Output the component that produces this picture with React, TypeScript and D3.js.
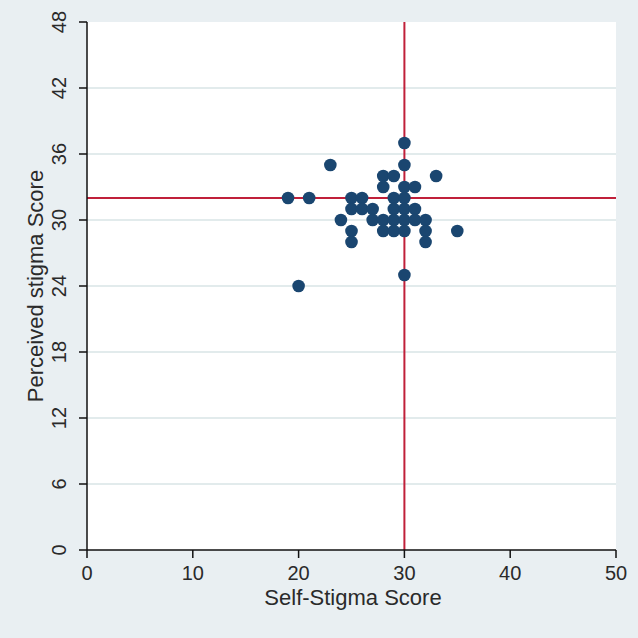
import React from "react";
import * as d3 from "d3";

const selfStigma = [30, 23, 30, 28, 29, 33, 28, 30, 31, 19, 21, 25, 26, 29, 30, 25, 26, 27, 29, 30, 31, 24, 27, 28, 29, 30, 31, 32, 25, 28, 29, 30, 32, 35, 25, 32, 30, 20];
const perceived = [37, 35, 35, 34, 34, 34, 33, 33, 33, 32, 32, 32, 32, 32, 32, 31, 31, 31, 31, 31, 31, 30, 30, 30, 30, 30, 30, 30, 29, 29, 29, 29, 29, 29, 28, 28, 25, 24];
const xTicks = [0, 10, 20, 30, 40, 50];
const yTicks = [0, 6, 12, 18, 24, 30, 36, 42, 48];
const xRef = 30;
const yRef = 32;
const xTitle = "Self-Stigma Score";
const yTitle = "Perceived stigma Score";

export default function App() {
  const W = 638, H = 638;
  const left = 87, right = 616, top = 22, bottom = 550;
  const x = d3.scaleLinear().domain([0, 50]).range([left, right]);
  const y = d3.scaleLinear().domain([0, 48]).range([bottom, top]);
  const font = "'Liberation Sans', Arial, sans-serif";
  const pts = selfStigma.map((v, i) => ({ x: v, y: perceived[i] }));
  return (
    <svg width={W} height={H} style={{ position: "absolute", left: 0, top: 0 }}>
      <rect x={0} y={0} width={W} height={H} fill="#e9eff2" />
      <rect x={left} y={top} width={right - left} height={bottom - top} fill="#ffffff" />
      {yTicks.filter(t => t > 0 && t < 48).map(t => (
        <line key={"g" + t} x1={left} x2={right} y1={y(t)} y2={y(t)} stroke="#e2ebec" strokeWidth={2} />
      ))}
      <line x1={x(xRef)} x2={x(xRef)} y1={top} y2={bottom} stroke="#c0203a" strokeWidth={2} />
      <line x1={left} x2={right} y1={y(yRef)} y2={y(yRef)} stroke="#c0203a" strokeWidth={2} />
      {pts.map((p, i) => (
        <circle key={i} cx={x(p.x)} cy={y(p.y)} r={6.3} fill="#1a4670" />
      ))}
      <line x1={left} x2={left} y1={top} y2={bottom} stroke="#111" strokeWidth={1.5} />
      <line x1={left} x2={right} y1={bottom} y2={bottom} stroke="#111" strokeWidth={1.5} />
      {yTicks.map(t => (
        <g key={"y" + t}>
          <line x1={left - 8} x2={left} y1={y(t)} y2={y(t)} stroke="#111" strokeWidth={1.5} />
          <text transform={`translate(${left - 21},${y(t)}) rotate(-90)`} textAnchor="middle" fontFamily={font} fontSize={20} fill="#2a2a2a">{t}</text>
        </g>
      ))}
      {xTicks.map(t => (
        <g key={"x" + t}>
          <line x1={x(t)} x2={x(t)} y1={bottom} y2={bottom + 8} stroke="#111" strokeWidth={1.5} />
          <text x={x(t)} y={bottom + 30} textAnchor="middle" fontFamily={font} fontSize={20} fill="#2a2a2a">{t}</text>
        </g>
      ))}
      <text x={353} y={605} textAnchor="middle" fontFamily={font} fontSize={22} fill="#2a2a2a">{xTitle}</text>
      <text transform={`translate(43,${(top + bottom) / 2}) rotate(-90)`} textAnchor="middle" fontFamily={font} fontSize={22} fill="#2a2a2a">{yTitle}</text>
    </svg>
  );
}
